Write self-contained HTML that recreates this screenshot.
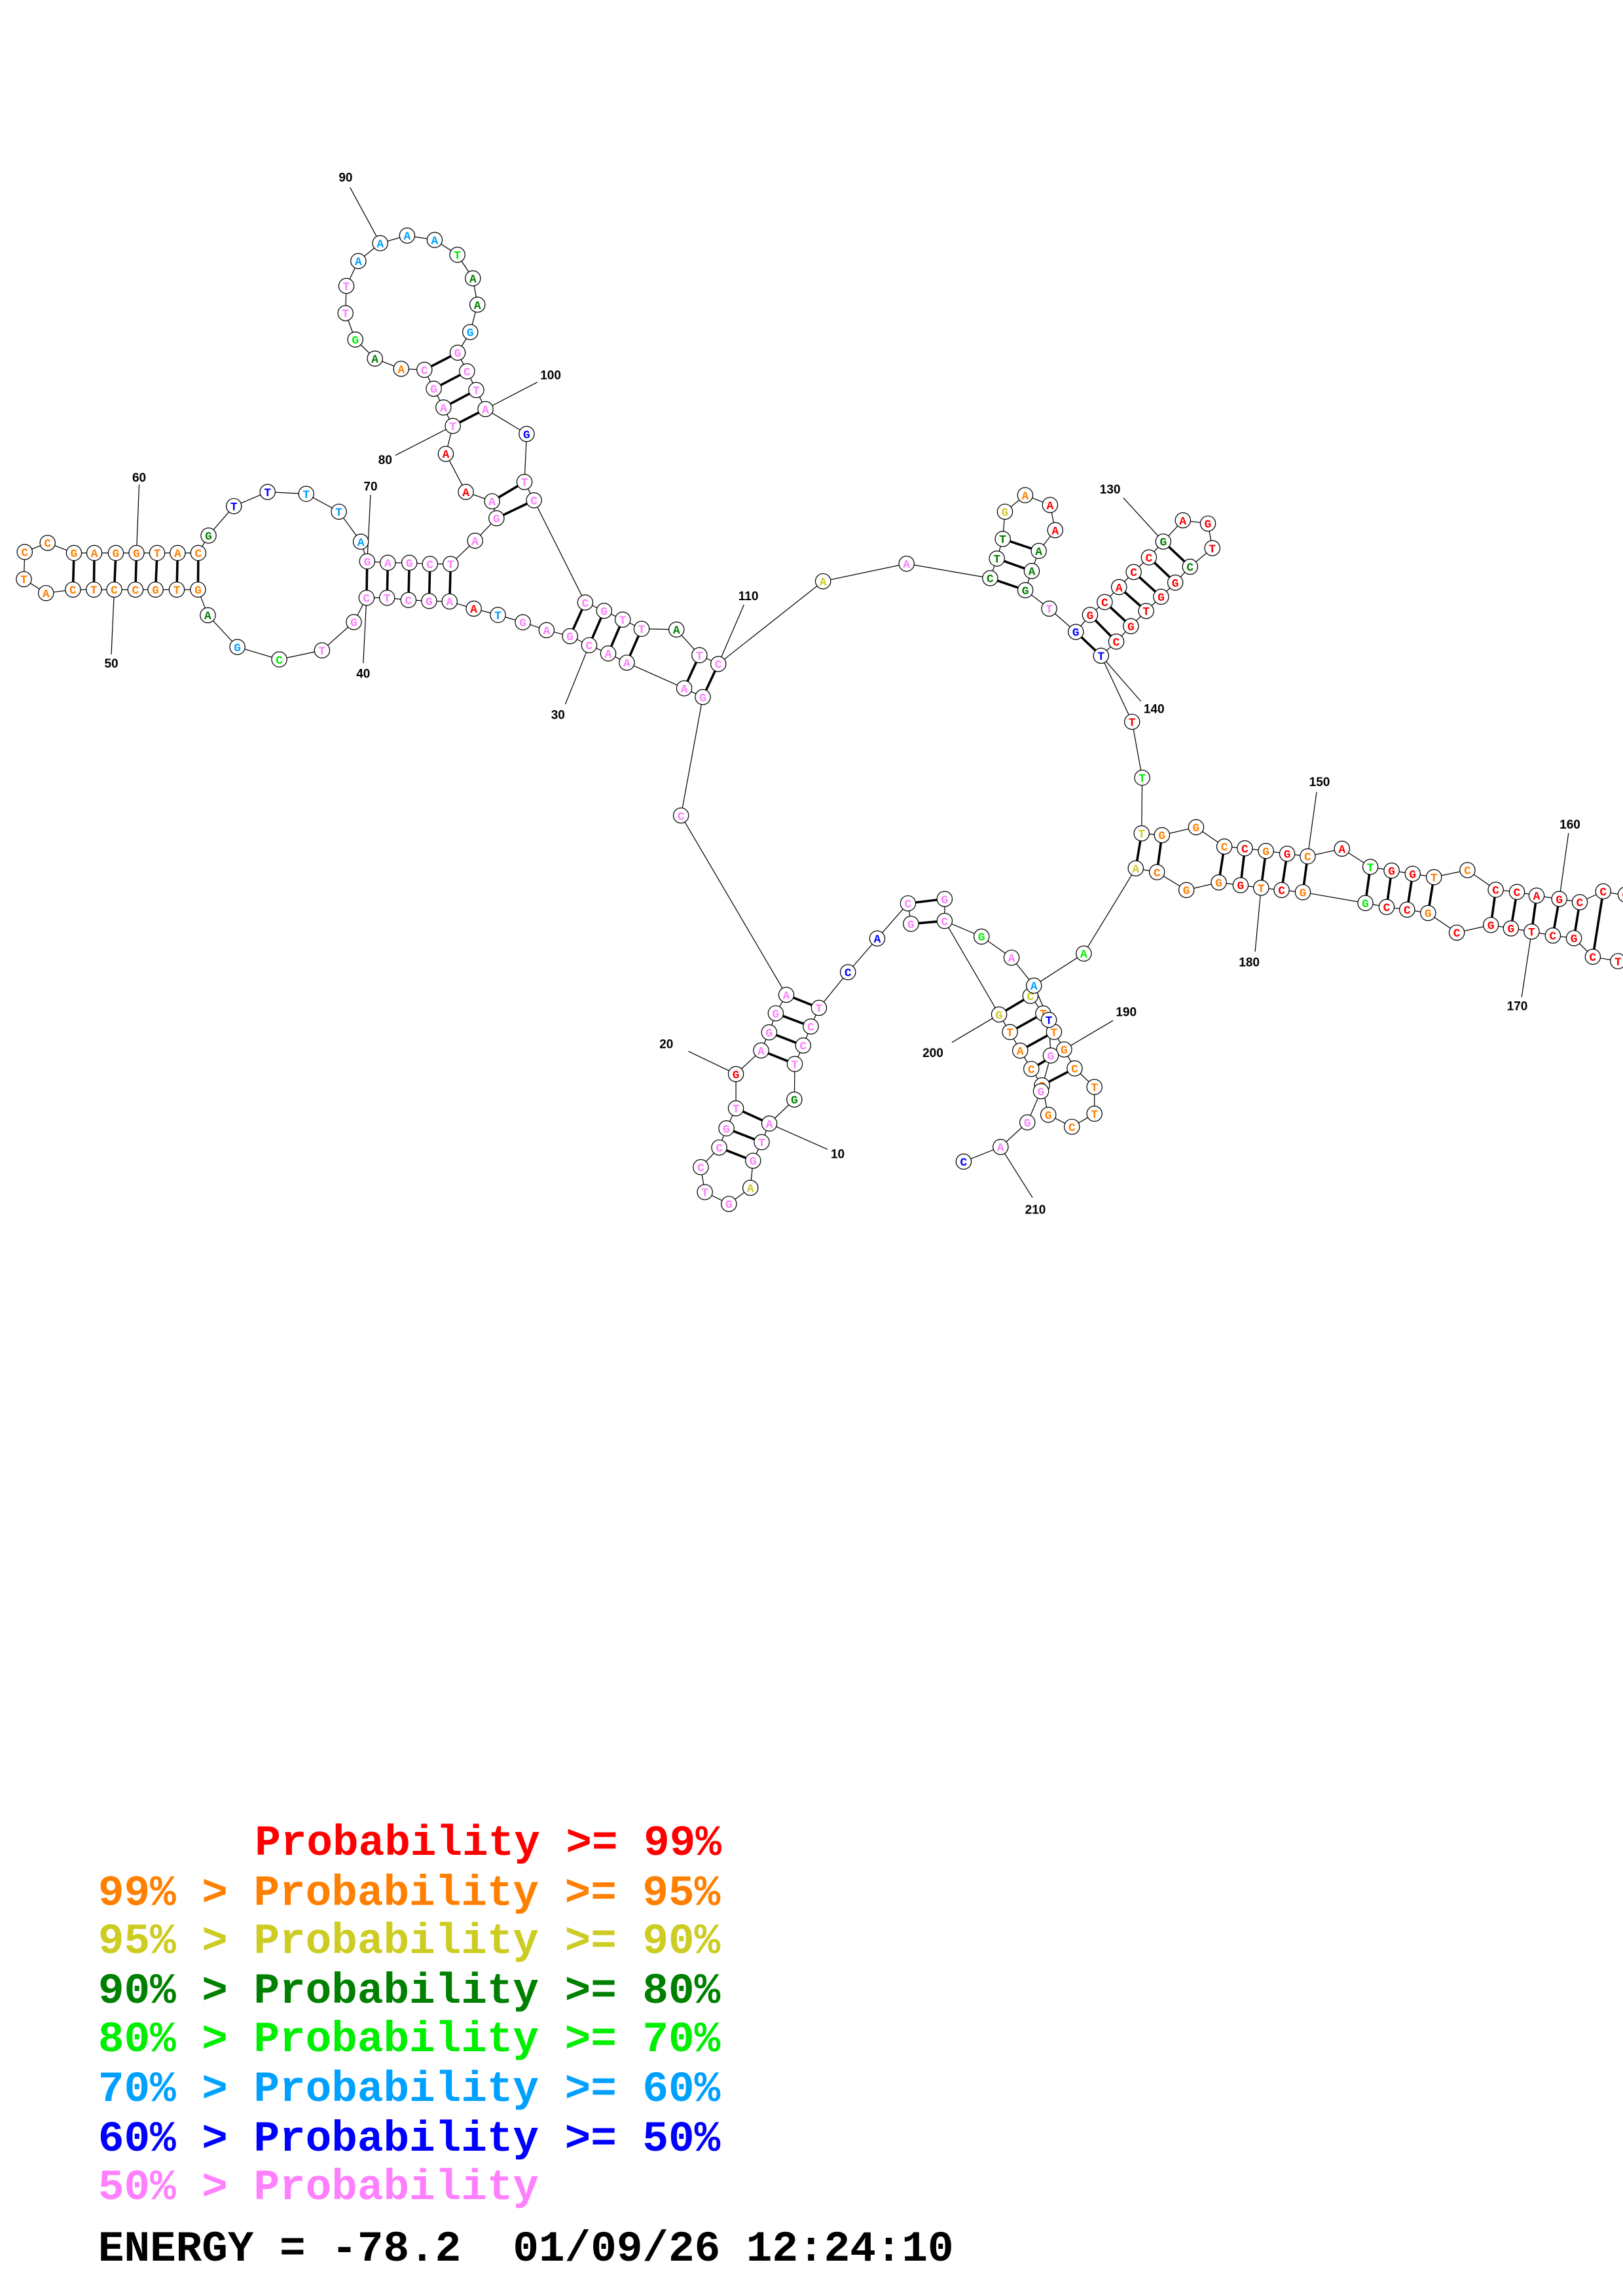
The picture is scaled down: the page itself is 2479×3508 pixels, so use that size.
<!DOCTYPE html>
<html><head><meta charset="utf-8"><style>
html,body{margin:0;padding:0;background:#fff}
svg{display:block}
circle{fill:#fff;stroke:#000;stroke-width:0.55}
.n text{font-family:"Liberation Mono",monospace;font-weight:bold;font-size:8px;text-anchor:middle}
.r{fill:#ff0000}.o{fill:#ff8000}.y{fill:#cccc22}.d{fill:#008000}.g{fill:#00ee00}.l{fill:#00a0ff}.b{fill:#0000ff}.p{fill:#ff80ff}
.bb{fill:none;stroke:#000;stroke-width:0.55}
.pr line{stroke:#000;stroke-width:1.6}
.lb line{stroke:#000;stroke-width:0.55}
.num{font-family:"Liberation Sans",sans-serif;font-weight:bold;font-size:8.5px;text-anchor:middle;fill:#000}
.leg{font-family:"Liberation Mono",monospace;font-weight:bold;font-size:29.5px}
</style></head><body>
<svg width="2479" height="3508" viewBox="0 0 1108.2 1568.2" xmlns="http://www.w3.org/2000/svg">
<rect width="1108.2" height="1568.2" fill="#fff"/>
<polyline class="bb" points="620,617 599,641 579,664 559.2,688.4 553.6,701.1 548.4,714.1 542.7,726.7 542.4,751 525.3,767.4 520.1,780.1 514.2,792.8 512.4,811.3 497.7,822.3 481.3,814.2 478.5,797.2 491.1,783.8 496,770.7 502.5,757 502.5,733.6 519.7,717.5 525.2,705.1 529.7,692.1 536.9,679.5 465,557 479.9,476.1 467.2,470.1 428,452.6 415.3,446.3 402.3,440.7 389.2,434.5 373.2,430.4 357,425 340,420 323.5,415.7 307,410.8 293,410.5 278.9,409.8 264.3,408.3 250.3,408.3 241.6,424.9 219.9,444.2 190.7,450.4 162.1,441.9 141.9,420.2 135.2,402.7 120.7,402.7 106.2,402.7 92.5,402.7 78,402.7 64.1,402.7 49.8,402.7 31.4,405.1 16.3,395.6 16.9,377 32.5,370.8 50.5,377.7 64.4,377.7 79.1,377.7 93.2,377.7 107.3,377.7 121.3,377.7 135.4,377.7 142.4,365.8 159.7,345.7 182.7,336 209.1,337.3 231.4,349.5 246.4,370 250.7,383.4 264.8,384.4 279.5,384.4 293.6,385.2 307.7,385.2 324.4,369.3 339,354 336,342.4 318.1,336 304.4,310 309.2,290.9 302.8,278.3 296.2,265.5 289.8,252.6 273.9,251.9 256,244.9 242.6,231.9 235.9,213.9 236.5,195.3 244.7,178.3 259.6,166.1 278,160.9 296.8,163.9 312.3,174 322.9,190.1 326,208.1 321.1,226.8 312.5,240.9 318.9,253.6 325.2,266.4 331.5,279.4 359.6,296.4 358.1,329.2 364.6,341.7 399.6,411.5 412.5,417.2 425.2,423.2 438.1,429.5 461.9,430 477.6,447.5 490.5,453.5 562,397 619,385 676.1,394.9 680.7,381.5 684.7,368.1 686.2,349.5 700,338.2 717,344.9 720.5,362.1 709.3,376.3 704.5,390 700.1,403.1 716.4,415.7 734.6,431.6 744.3,420 754.3,411.2 764.1,401 774.1,390.7 784.5,380.7 794.3,369.9 807.7,355.4 824.8,357.6 827.8,374.4 812.6,387.1 802.5,397.9 792.8,407.6 782.6,417.3 772.2,427.7 762.2,438.2 751.8,447.9 773,493 779.9,531.2 779.5,569.2 793.4,570.4 816.7,565 836,578.2 850,579.4 864.4,581.2 878.9,583.1 892.9,584.9 916.3,579.7 935.7,592.1 950.2,594.6 964.6,596.8 979.1,599.1 1002,594.3 1021.3,607.7 1035.8,609.2 1049.2,611.7 1064.7,614 1078.7,616.2 1094.7,608.8 1112,612"/>
<polyline class="bb" points="1118,660 1104.8,656.5 1087.6,653.5 1074.7,640.8 1060.3,639 1045.8,636.3 1031.7,634.1 1018,631.8 994.7,637 975.1,623.6 960.8,621.3 946.8,619.5 932.3,616.8 889.6,609.4 875.1,607.9 861.1,606.4 847.1,604.6 832.2,602.7 810.1,607.9 790,595.7 775.5,593.1 740,651.3 706,673.2"/>
<polyline class="bb" points="706,673.2 703.6,680.2 712.3,692.2 719.7,704.8 726.6,716.8 733.8,729.7 747.3,742.4 747.3,760.7 731.9,769.6 715.8,761.4 711.5,741.3 704.2,730.1 696.6,717.6 689.6,704.9 682.2,692.9 645,629 670.2,639.7 690.7,654.1 706,673.2"/>
<polyline class="bb" points="706,673.2 716.2,696.6 717.5,720.9 710.8,745.3 701.5,766.6 683.2,783.4 658,793.4"/>
<polyline class="bb" points="620,617 622,631"/>
<polyline class="bb" points="645,614 645,629"/>
<g class="pr">
<line x1="620" y1="617" x2="645" y2="614"/><line x1="622" y1="631" x2="645" y2="629"/>
<line x1="536.9" y1="679.5" x2="559.2" y2="688.4"/><line x1="529.7" y1="692.1" x2="553.6" y2="701.1"/><line x1="525.2" y1="705.1" x2="548.4" y2="714.1"/><line x1="519.7" y1="717.5" x2="542.7" y2="726.7"/>
<line x1="502.5" y1="757" x2="525.3" y2="767.4"/><line x1="496" y1="770.7" x2="520.1" y2="780.1"/><line x1="491.1" y1="783.8" x2="514.2" y2="792.8"/>
<line x1="399.6" y1="411.5" x2="389.2" y2="434.5"/><line x1="412.5" y1="417.2" x2="402.3" y2="440.7"/><line x1="425.2" y1="423.2" x2="415.3" y2="446.3"/><line x1="438.1" y1="429.5" x2="428" y2="452.6"/>
<line x1="477.6" y1="447.5" x2="467.2" y2="470.1"/><line x1="490.5" y1="453.5" x2="479.9" y2="476.1"/>
<line x1="50.5" y1="377.7" x2="49.8" y2="402.7"/><line x1="64.4" y1="377.7" x2="64.1" y2="402.7"/><line x1="79.1" y1="377.7" x2="78" y2="402.7"/><line x1="93.2" y1="377.7" x2="92.5" y2="402.7"/><line x1="107.3" y1="377.7" x2="106.2" y2="402.7"/><line x1="121.3" y1="377.7" x2="120.7" y2="402.7"/><line x1="135.4" y1="377.7" x2="135.2" y2="402.7"/>
<line x1="250.7" y1="383.4" x2="250.3" y2="408.3"/><line x1="264.8" y1="384.4" x2="264.3" y2="408.3"/><line x1="279.5" y1="384.4" x2="278.9" y2="409.8"/><line x1="293.6" y1="385.2" x2="293" y2="410.5"/><line x1="307.7" y1="385.2" x2="307" y2="410.8"/>
<line x1="358.1" y1="329.2" x2="336" y2="342.4"/><line x1="364.6" y1="341.7" x2="339" y2="354"/>
<line x1="312.5" y1="240.9" x2="289.8" y2="252.6"/><line x1="318.9" y1="253.6" x2="296.2" y2="265.5"/><line x1="325.2" y1="266.4" x2="302.8" y2="278.3"/><line x1="331.5" y1="279.4" x2="309.2" y2="290.9"/>
<line x1="676.1" y1="394.9" x2="700.1" y2="403.1"/><line x1="680.7" y1="381.5" x2="704.5" y2="390"/><line x1="684.7" y1="368.1" x2="709.3" y2="376.3"/>
<line x1="734.6" y1="431.6" x2="751.8" y2="447.9"/><line x1="744.3" y1="420" x2="762.2" y2="438.2"/><line x1="754.3" y1="411.2" x2="772.2" y2="427.7"/><line x1="764.1" y1="401" x2="782.6" y2="417.3"/><line x1="774.1" y1="390.7" x2="792.8" y2="407.6"/><line x1="784.5" y1="380.7" x2="802.5" y2="397.9"/><line x1="794.3" y1="369.9" x2="812.6" y2="387.1"/>
<line x1="779.5" y1="569.2" x2="775.5" y2="593.1"/><line x1="793.4" y1="570.4" x2="790" y2="595.7"/>
<line x1="836" y1="578.2" x2="832.2" y2="602.7"/><line x1="850" y1="579.4" x2="847.1" y2="604.6"/><line x1="864.4" y1="581.2" x2="861.1" y2="606.4"/><line x1="878.9" y1="583.1" x2="875.1" y2="607.9"/><line x1="892.9" y1="584.9" x2="889.6" y2="609.4"/>
<line x1="935.7" y1="592.1" x2="932.3" y2="616.8"/><line x1="950.2" y1="594.6" x2="946.8" y2="619.5"/><line x1="964.6" y1="596.8" x2="960.8" y2="621.3"/><line x1="979.1" y1="599.1" x2="975.1" y2="623.6"/>
<line x1="1021.3" y1="607.7" x2="1018" y2="631.8"/><line x1="1035.8" y1="609.2" x2="1031.7" y2="634.1"/><line x1="1049.2" y1="611.7" x2="1045.8" y2="636.3"/><line x1="1064.7" y1="614" x2="1060.3" y2="639"/><line x1="1078.7" y1="616.2" x2="1074.7" y2="640.8"/><line x1="1094.7" y1="608.8" x2="1087.6" y2="653.5"/>
<line x1="682.2" y1="692.9" x2="703.6" y2="680.2"/><line x1="689.6" y1="704.9" x2="712.3" y2="692.2"/><line x1="696.6" y1="717.6" x2="719.7" y2="704.8"/><line x1="704.2" y1="730.1" x2="726.6" y2="716.8"/><line x1="711.5" y1="741.3" x2="733.8" y2="729.7"/>
</g>
<g class="lb">
<line x1="259.6" y1="166.1" x2="239" y2="128"/><line x1="331.5" y1="279.4" x2="367" y2="261"/><line x1="309.2" y1="290.9" x2="270" y2="311"/><line x1="250.7" y1="383.4" x2="253" y2="338"/><line x1="93.2" y1="377.7" x2="95" y2="331"/><line x1="78" y1="402.7" x2="76" y2="447"/><line x1="250.3" y1="408.3" x2="248" y2="453"/><line x1="402.3" y1="440.7" x2="386" y2="481"/><line x1="490.5" y1="453.5" x2="508" y2="413"/><line x1="794.3" y1="369.9" x2="767" y2="340"/><line x1="751.8" y1="447.9" x2="779" y2="479"/><line x1="892.9" y1="584.9" x2="899" y2="541"/><line x1="1064.7" y1="614" x2="1071" y2="569"/><line x1="1045.8" y1="636.3" x2="1039" y2="681"/><line x1="861.1" y1="606.4" x2="857" y2="650"/><line x1="726.6" y1="716.8" x2="760" y2="697"/><line x1="682.2" y1="692.9" x2="650" y2="712"/><line x1="683.2" y1="783.4" x2="705" y2="818"/><line x1="525.3" y1="767.4" x2="565" y2="785"/><line x1="502.5" y1="733.6" x2="470" y2="718"/>
</g>
<g class="num">
<text x="236" y="124">90</text><text x="376" y="259">100</text><text x="263" y="317">80</text><text x="253" y="335">70</text><text x="95" y="329">60</text><text x="76" y="456">50</text><text x="248" y="463">40</text><text x="381" y="491">30</text><text x="511" y="410">110</text><text x="758" y="337">130</text><text x="788" y="487">140</text><text x="901" y="537">150</text><text x="1072" y="566">160</text><text x="1036" y="690">170</text><text x="853" y="660">180</text><text x="769" y="694">190</text><text x="637" y="722">200</text><text x="707" y="829">210</text><text x="572" y="791">10</text><text x="455" y="716">20</text>
</g>
<g class="n">
<circle cx="1110" cy="611" r="5.2"/><text x="1110" y="613.8" class="r">C</text>
<circle cx="620" cy="617" r="5.2"/><text x="620" y="619.8" class="p">C</text>
<circle cx="622" cy="631" r="5.2"/><text x="622" y="633.8" class="p">G</text>
<circle cx="645" cy="614" r="5.2"/><text x="645" y="616.8" class="p">G</text>
<circle cx="645" cy="629" r="5.2"/><text x="645" y="631.8" class="p">C</text>
<circle cx="599" cy="641" r="5.2"/><text x="599" y="643.8" class="b">A</text>
<circle cx="579" cy="664" r="5.2"/><text x="579" y="666.8" class="b">C</text>
<circle cx="559.2" cy="688.4" r="5.2"/><text x="559.2" y="691.2" class="p">T</text>
<circle cx="553.6" cy="701.1" r="5.2"/><text x="553.6" y="703.9" class="p">C</text>
<circle cx="548.4" cy="714.1" r="5.2"/><text x="548.4" y="716.9" class="p">C</text>
<circle cx="542.7" cy="726.7" r="5.2"/><text x="542.7" y="729.5" class="p">T</text>
<circle cx="542.4" cy="751" r="5.2"/><text x="542.4" y="753.8" class="d">G</text>
<circle cx="525.3" cy="767.4" r="5.2"/><text x="525.3" y="770.2" class="p">A</text>
<circle cx="520.1" cy="780.1" r="5.2"/><text x="520.1" y="782.9" class="p">T</text>
<circle cx="514.2" cy="792.8" r="5.2"/><text x="514.2" y="795.6" class="p">G</text>
<circle cx="512.4" cy="811.3" r="5.2"/><text x="512.4" y="814.1" class="y">A</text>
<circle cx="497.7" cy="822.3" r="5.2"/><text x="497.7" y="825.1" class="p">G</text>
<circle cx="481.3" cy="814.2" r="5.2"/><text x="481.3" y="817" class="p">T</text>
<circle cx="478.5" cy="797.2" r="5.2"/><text x="478.5" y="800" class="p">C</text>
<circle cx="491.1" cy="783.8" r="5.2"/><text x="491.1" y="786.6" class="p">C</text>
<circle cx="496" cy="770.7" r="5.2"/><text x="496" y="773.5" class="p">G</text>
<circle cx="502.5" cy="757" r="5.2"/><text x="502.5" y="759.8" class="p">T</text>
<circle cx="502.5" cy="733.6" r="5.2"/><text x="502.5" y="736.4" class="r">G</text>
<circle cx="519.7" cy="717.5" r="5.2"/><text x="519.7" y="720.3" class="p">A</text>
<circle cx="525.2" cy="705.1" r="5.2"/><text x="525.2" y="707.9" class="p">G</text>
<circle cx="529.7" cy="692.1" r="5.2"/><text x="529.7" y="694.9" class="p">G</text>
<circle cx="536.9" cy="679.5" r="5.2"/><text x="536.9" y="682.3" class="p">A</text>
<circle cx="465" cy="557" r="5.2"/><text x="465" y="559.8" class="p">C</text>
<circle cx="479.9" cy="476.1" r="5.2"/><text x="479.9" y="478.9" class="p">G</text>
<circle cx="467.2" cy="470.1" r="5.2"/><text x="467.2" y="472.9" class="p">A</text>
<circle cx="428" cy="452.6" r="5.2"/><text x="428" y="455.4" class="p">A</text>
<circle cx="415.3" cy="446.3" r="5.2"/><text x="415.3" y="449.1" class="p">A</text>
<circle cx="402.3" cy="440.7" r="5.2"/><text x="402.3" y="443.5" class="p">C</text>
<circle cx="389.2" cy="434.5" r="5.2"/><text x="389.2" y="437.3" class="p">G</text>
<circle cx="373.2" cy="430.4" r="5.2"/><text x="373.2" y="433.2" class="p">A</text>
<circle cx="357" cy="425" r="5.2"/><text x="357" y="427.8" class="p">G</text>
<circle cx="340" cy="420" r="5.2"/><text x="340" y="422.8" class="l">T</text>
<circle cx="323.5" cy="415.7" r="5.2"/><text x="323.5" y="418.5" class="r">A</text>
<circle cx="307" cy="410.8" r="5.2"/><text x="307" y="413.6" class="p">A</text>
<circle cx="293" cy="410.5" r="5.2"/><text x="293" y="413.3" class="p">G</text>
<circle cx="278.9" cy="409.8" r="5.2"/><text x="278.9" y="412.6" class="p">C</text>
<circle cx="264.3" cy="408.3" r="5.2"/><text x="264.3" y="411.1" class="p">T</text>
<circle cx="250.3" cy="408.3" r="5.2"/><text x="250.3" y="411.1" class="p">C</text>
<circle cx="241.6" cy="424.9" r="5.2"/><text x="241.6" y="427.7" class="p">G</text>
<circle cx="219.9" cy="444.2" r="5.2"/><text x="219.9" y="447" class="p">T</text>
<circle cx="190.7" cy="450.4" r="5.2"/><text x="190.7" y="453.2" class="g">C</text>
<circle cx="162.1" cy="441.9" r="5.2"/><text x="162.1" y="444.7" class="l">G</text>
<circle cx="141.9" cy="420.2" r="5.2"/><text x="141.9" y="423" class="d">A</text>
<circle cx="135.2" cy="402.7" r="5.2"/><text x="135.2" y="405.5" class="o">G</text>
<circle cx="120.7" cy="402.7" r="5.2"/><text x="120.7" y="405.5" class="o">T</text>
<circle cx="106.2" cy="402.7" r="5.2"/><text x="106.2" y="405.5" class="o">G</text>
<circle cx="92.5" cy="402.7" r="5.2"/><text x="92.5" y="405.5" class="o">C</text>
<circle cx="78" cy="402.7" r="5.2"/><text x="78" y="405.5" class="o">C</text>
<circle cx="64.1" cy="402.7" r="5.2"/><text x="64.1" y="405.5" class="o">T</text>
<circle cx="49.8" cy="402.7" r="5.2"/><text x="49.8" y="405.5" class="o">C</text>
<circle cx="31.4" cy="405.1" r="5.2"/><text x="31.4" y="407.9" class="o">A</text>
<circle cx="16.3" cy="395.6" r="5.2"/><text x="16.3" y="398.4" class="o">T</text>
<circle cx="16.9" cy="377" r="5.2"/><text x="16.9" y="379.8" class="o">C</text>
<circle cx="32.5" cy="370.8" r="5.2"/><text x="32.5" y="373.6" class="o">C</text>
<circle cx="50.5" cy="377.7" r="5.2"/><text x="50.5" y="380.5" class="o">G</text>
<circle cx="64.4" cy="377.7" r="5.2"/><text x="64.4" y="380.5" class="o">A</text>
<circle cx="79.1" cy="377.7" r="5.2"/><text x="79.1" y="380.5" class="o">G</text>
<circle cx="93.2" cy="377.7" r="5.2"/><text x="93.2" y="380.5" class="o">G</text>
<circle cx="107.3" cy="377.7" r="5.2"/><text x="107.3" y="380.5" class="o">T</text>
<circle cx="121.3" cy="377.7" r="5.2"/><text x="121.3" y="380.5" class="o">A</text>
<circle cx="135.4" cy="377.7" r="5.2"/><text x="135.4" y="380.5" class="o">C</text>
<circle cx="142.4" cy="365.8" r="5.2"/><text x="142.4" y="368.6" class="d">G</text>
<circle cx="159.7" cy="345.7" r="5.2"/><text x="159.7" y="348.5" class="b">T</text>
<circle cx="182.7" cy="336" r="5.2"/><text x="182.7" y="338.8" class="b">T</text>
<circle cx="209.1" cy="337.3" r="5.2"/><text x="209.1" y="340.1" class="l">T</text>
<circle cx="231.4" cy="349.5" r="5.2"/><text x="231.4" y="352.3" class="l">T</text>
<circle cx="246.4" cy="370" r="5.2"/><text x="246.4" y="372.8" class="l">A</text>
<circle cx="250.7" cy="383.4" r="5.2"/><text x="250.7" y="386.2" class="p">G</text>
<circle cx="264.8" cy="384.4" r="5.2"/><text x="264.8" y="387.2" class="p">A</text>
<circle cx="279.5" cy="384.4" r="5.2"/><text x="279.5" y="387.2" class="p">G</text>
<circle cx="293.6" cy="385.2" r="5.2"/><text x="293.6" y="388" class="p">C</text>
<circle cx="307.7" cy="385.2" r="5.2"/><text x="307.7" y="388" class="p">T</text>
<circle cx="324.4" cy="369.3" r="5.2"/><text x="324.4" y="372.1" class="p">A</text>
<circle cx="339" cy="354" r="5.2"/><text x="339" y="356.8" class="p">G</text>
<circle cx="336" cy="342.4" r="5.2"/><text x="336" y="345.2" class="p">A</text>
<circle cx="318.1" cy="336" r="5.2"/><text x="318.1" y="338.8" class="r">A</text>
<circle cx="304.4" cy="310" r="5.2"/><text x="304.4" y="312.8" class="r">A</text>
<circle cx="309.2" cy="290.9" r="5.2"/><text x="309.2" y="293.7" class="p">T</text>
<circle cx="302.8" cy="278.3" r="5.2"/><text x="302.8" y="281.1" class="p">A</text>
<circle cx="296.2" cy="265.5" r="5.2"/><text x="296.2" y="268.3" class="p">G</text>
<circle cx="289.8" cy="252.6" r="5.2"/><text x="289.8" y="255.4" class="p">C</text>
<circle cx="273.9" cy="251.9" r="5.2"/><text x="273.9" y="254.7" class="o">A</text>
<circle cx="256" cy="244.9" r="5.2"/><text x="256" y="247.7" class="d">A</text>
<circle cx="242.6" cy="231.9" r="5.2"/><text x="242.6" y="234.7" class="g">G</text>
<circle cx="235.9" cy="213.9" r="5.2"/><text x="235.9" y="216.7" class="p">T</text>
<circle cx="236.5" cy="195.3" r="5.2"/><text x="236.5" y="198.1" class="p">T</text>
<circle cx="244.7" cy="178.3" r="5.2"/><text x="244.7" y="181.1" class="l">A</text>
<circle cx="259.6" cy="166.1" r="5.2"/><text x="259.6" y="168.9" class="l">A</text>
<circle cx="278" cy="160.9" r="5.2"/><text x="278" y="163.7" class="l">A</text>
<circle cx="296.8" cy="163.9" r="5.2"/><text x="296.8" y="166.7" class="l">A</text>
<circle cx="312.3" cy="174" r="5.2"/><text x="312.3" y="176.8" class="g">T</text>
<circle cx="322.9" cy="190.1" r="5.2"/><text x="322.9" y="192.9" class="d">A</text>
<circle cx="326" cy="208.1" r="5.2"/><text x="326" y="210.9" class="d">A</text>
<circle cx="321.1" cy="226.8" r="5.2"/><text x="321.1" y="229.6" class="l">G</text>
<circle cx="312.5" cy="240.9" r="5.2"/><text x="312.5" y="243.7" class="p">G</text>
<circle cx="318.9" cy="253.6" r="5.2"/><text x="318.9" y="256.4" class="p">C</text>
<circle cx="325.2" cy="266.4" r="5.2"/><text x="325.2" y="269.2" class="p">T</text>
<circle cx="331.5" cy="279.4" r="5.2"/><text x="331.5" y="282.2" class="p">A</text>
<circle cx="359.6" cy="296.4" r="5.2"/><text x="359.6" y="299.2" class="b">G</text>
<circle cx="358.1" cy="329.2" r="5.2"/><text x="358.1" y="332" class="p">T</text>
<circle cx="364.6" cy="341.7" r="5.2"/><text x="364.6" y="344.5" class="p">C</text>
<circle cx="399.6" cy="411.5" r="5.2"/><text x="399.6" y="414.3" class="p">C</text>
<circle cx="412.5" cy="417.2" r="5.2"/><text x="412.5" y="420" class="p">G</text>
<circle cx="425.2" cy="423.2" r="5.2"/><text x="425.2" y="426" class="p">T</text>
<circle cx="438.1" cy="429.5" r="5.2"/><text x="438.1" y="432.3" class="p">T</text>
<circle cx="461.9" cy="430" r="5.2"/><text x="461.9" y="432.8" class="d">A</text>
<circle cx="477.6" cy="447.5" r="5.2"/><text x="477.6" y="450.3" class="p">T</text>
<circle cx="490.5" cy="453.5" r="5.2"/><text x="490.5" y="456.3" class="p">C</text>
<circle cx="562" cy="397" r="5.2"/><text x="562" y="399.8" class="y">A</text>
<circle cx="619" cy="385" r="5.2"/><text x="619" y="387.8" class="p">A</text>
<circle cx="676.1" cy="394.9" r="5.2"/><text x="676.1" y="397.7" class="d">C</text>
<circle cx="680.7" cy="381.5" r="5.2"/><text x="680.7" y="384.3" class="d">T</text>
<circle cx="684.7" cy="368.1" r="5.2"/><text x="684.7" y="370.9" class="d">T</text>
<circle cx="686.2" cy="349.5" r="5.2"/><text x="686.2" y="352.3" class="y">G</text>
<circle cx="700" cy="338.2" r="5.2"/><text x="700" y="341" class="o">A</text>
<circle cx="717" cy="344.9" r="5.2"/><text x="717" y="347.7" class="r">A</text>
<circle cx="720.5" cy="362.1" r="5.2"/><text x="720.5" y="364.9" class="r">A</text>
<circle cx="709.3" cy="376.3" r="5.2"/><text x="709.3" y="379.1" class="d">A</text>
<circle cx="704.5" cy="390" r="5.2"/><text x="704.5" y="392.8" class="d">A</text>
<circle cx="700.1" cy="403.1" r="5.2"/><text x="700.1" y="405.9" class="d">G</text>
<circle cx="716.4" cy="415.7" r="5.2"/><text x="716.4" y="418.5" class="p">T</text>
<circle cx="734.6" cy="431.6" r="5.2"/><text x="734.6" y="434.4" class="b">G</text>
<circle cx="744.3" cy="420" r="5.2"/><text x="744.3" y="422.8" class="r">G</text>
<circle cx="754.3" cy="411.2" r="5.2"/><text x="754.3" y="414" class="r">C</text>
<circle cx="764.1" cy="401" r="5.2"/><text x="764.1" y="403.8" class="r">A</text>
<circle cx="774.1" cy="390.7" r="5.2"/><text x="774.1" y="393.5" class="r">C</text>
<circle cx="784.5" cy="380.7" r="5.2"/><text x="784.5" y="383.5" class="r">C</text>
<circle cx="794.3" cy="369.9" r="5.2"/><text x="794.3" y="372.7" class="d">G</text>
<circle cx="807.7" cy="355.4" r="5.2"/><text x="807.7" y="358.2" class="r">A</text>
<circle cx="824.8" cy="357.6" r="5.2"/><text x="824.8" y="360.4" class="r">G</text>
<circle cx="827.8" cy="374.4" r="5.2"/><text x="827.8" y="377.2" class="r">T</text>
<circle cx="812.6" cy="387.1" r="5.2"/><text x="812.6" y="389.9" class="d">C</text>
<circle cx="802.5" cy="397.9" r="5.2"/><text x="802.5" y="400.7" class="r">G</text>
<circle cx="792.8" cy="407.6" r="5.2"/><text x="792.8" y="410.4" class="r">G</text>
<circle cx="782.6" cy="417.3" r="5.2"/><text x="782.6" y="420.1" class="r">T</text>
<circle cx="772.2" cy="427.7" r="5.2"/><text x="772.2" y="430.5" class="r">G</text>
<circle cx="762.2" cy="438.2" r="5.2"/><text x="762.2" y="441" class="r">C</text>
<circle cx="751.8" cy="447.9" r="5.2"/><text x="751.8" y="450.7" class="b">T</text>
<circle cx="773" cy="493" r="5.2"/><text x="773" y="495.8" class="r">T</text>
<circle cx="779.9" cy="531.2" r="5.2"/><text x="779.9" y="534" class="g">T</text>
<circle cx="779.5" cy="569.2" r="5.2"/><text x="779.5" y="572" class="y">T</text>
<circle cx="793.4" cy="570.4" r="5.2"/><text x="793.4" y="573.2" class="o">G</text>
<circle cx="816.7" cy="565" r="5.2"/><text x="816.7" y="567.8" class="o">G</text>
<circle cx="836" cy="578.2" r="5.2"/><text x="836" y="581" class="o">C</text>
<circle cx="850" cy="579.4" r="5.2"/><text x="850" y="582.2" class="r">C</text>
<circle cx="864.4" cy="581.2" r="5.2"/><text x="864.4" y="584" class="o">G</text>
<circle cx="878.9" cy="583.1" r="5.2"/><text x="878.9" y="585.9" class="r">G</text>
<circle cx="892.9" cy="584.9" r="5.2"/><text x="892.9" y="587.7" class="o">C</text>
<circle cx="916.3" cy="579.7" r="5.2"/><text x="916.3" y="582.5" class="r">A</text>
<circle cx="935.7" cy="592.1" r="5.2"/><text x="935.7" y="594.9" class="g">T</text>
<circle cx="950.2" cy="594.6" r="5.2"/><text x="950.2" y="597.4" class="r">G</text>
<circle cx="964.6" cy="596.8" r="5.2"/><text x="964.6" y="599.6" class="r">G</text>
<circle cx="979.1" cy="599.1" r="5.2"/><text x="979.1" y="601.9" class="o">T</text>
<circle cx="1002" cy="594.3" r="5.2"/><text x="1002" y="597.1" class="o">C</text>
<circle cx="1021.3" cy="607.7" r="5.2"/><text x="1021.3" y="610.5" class="r">C</text>
<circle cx="1035.8" cy="609.2" r="5.2"/><text x="1035.8" y="612" class="r">C</text>
<circle cx="1049.2" cy="611.7" r="5.2"/><text x="1049.2" y="614.5" class="r">A</text>
<circle cx="1064.7" cy="614" r="5.2"/><text x="1064.7" y="616.8" class="r">G</text>
<circle cx="1078.7" cy="616.2" r="5.2"/><text x="1078.7" y="619" class="r">C</text>
<circle cx="1094.7" cy="608.8" r="5.2"/><text x="1094.7" y="611.6" class="r">C</text>
<circle cx="1104.8" cy="656.5" r="5.2"/><text x="1104.8" y="659.3" class="r">T</text>
<circle cx="1087.6" cy="653.5" r="5.2"/><text x="1087.6" y="656.3" class="r">C</text>
<circle cx="1074.7" cy="640.8" r="5.2"/><text x="1074.7" y="643.6" class="r">G</text>
<circle cx="1060.3" cy="639" r="5.2"/><text x="1060.3" y="641.8" class="r">C</text>
<circle cx="1045.8" cy="636.3" r="5.2"/><text x="1045.8" y="639.1" class="r">T</text>
<circle cx="1031.7" cy="634.1" r="5.2"/><text x="1031.7" y="636.9" class="r">G</text>
<circle cx="1018" cy="631.8" r="5.2"/><text x="1018" y="634.6" class="r">G</text>
<circle cx="994.7" cy="637" r="5.2"/><text x="994.7" y="639.8" class="r">C</text>
<circle cx="975.1" cy="623.6" r="5.2"/><text x="975.1" y="626.4" class="o">G</text>
<circle cx="960.8" cy="621.3" r="5.2"/><text x="960.8" y="624.1" class="r">C</text>
<circle cx="946.8" cy="619.5" r="5.2"/><text x="946.8" y="622.3" class="r">C</text>
<circle cx="932.3" cy="616.8" r="5.2"/><text x="932.3" y="619.6" class="g">G</text>
<circle cx="889.6" cy="609.4" r="5.2"/><text x="889.6" y="612.2" class="o">G</text>
<circle cx="875.1" cy="607.9" r="5.2"/><text x="875.1" y="610.7" class="r">C</text>
<circle cx="861.1" cy="606.4" r="5.2"/><text x="861.1" y="609.2" class="o">T</text>
<circle cx="847.1" cy="604.6" r="5.2"/><text x="847.1" y="607.4" class="r">G</text>
<circle cx="832.2" cy="602.7" r="5.2"/><text x="832.2" y="605.5" class="o">G</text>
<circle cx="810.1" cy="607.9" r="5.2"/><text x="810.1" y="610.7" class="o">G</text>
<circle cx="790" cy="595.7" r="5.2"/><text x="790" y="598.5" class="o">C</text>
<circle cx="775.5" cy="593.1" r="5.2"/><text x="775.5" y="595.9" class="y">A</text>
<circle cx="740" cy="651.3" r="5.2"/><text x="740" y="654.1" class="g">A</text>
<circle cx="670.2" cy="639.7" r="5.2"/><text x="670.2" y="642.5" class="g">G</text>
<circle cx="690.7" cy="654.1" r="5.2"/><text x="690.7" y="656.9" class="p">A</text>
<circle cx="712.3" cy="692.2" r="5.2"/><text x="712.3" y="695" class="o">T</text>
<circle cx="711.5" cy="741.3" r="5.2"/><text x="711.5" y="744.1" class="o">C</text>
<circle cx="703.6" cy="680.2" r="5.2"/><text x="703.6" y="683" class="y">C</text>
<circle cx="719.7" cy="704.8" r="5.2"/><text x="719.7" y="707.6" class="o">T</text>
<circle cx="726.6" cy="716.8" r="5.2"/><text x="726.6" y="719.6" class="o">G</text>
<circle cx="733.8" cy="729.7" r="5.2"/><text x="733.8" y="732.5" class="o">C</text>
<circle cx="747.3" cy="742.4" r="5.2"/><text x="747.3" y="745.2" class="o">T</text>
<circle cx="747.3" cy="760.7" r="5.2"/><text x="747.3" y="763.5" class="o">T</text>
<circle cx="731.9" cy="769.6" r="5.2"/><text x="731.9" y="772.4" class="o">C</text>
<circle cx="715.8" cy="761.4" r="5.2"/><text x="715.8" y="764.2" class="o">G</text>
<circle cx="704.2" cy="730.1" r="5.2"/><text x="704.2" y="732.9" class="o">C</text>
<circle cx="696.6" cy="717.6" r="5.2"/><text x="696.6" y="720.4" class="o">A</text>
<circle cx="689.6" cy="704.9" r="5.2"/><text x="689.6" y="707.7" class="o">T</text>
<circle cx="682.2" cy="692.9" r="5.2"/><text x="682.2" y="695.7" class="y">G</text>
<circle cx="706" cy="673.2" r="5.2"/><text x="706" y="676" class="l">A</text>
<circle cx="716.2" cy="696.6" r="5.2"/><text x="716.2" y="699.4" class="b">T</text>
<circle cx="717.5" cy="720.9" r="5.2"/><text x="717.5" y="723.7" class="p">G</text>
<circle cx="710.8" cy="745.3" r="5.2"/><text x="710.8" y="748.1" class="p">G</text>
<circle cx="701.5" cy="766.6" r="5.2"/><text x="701.5" y="769.4" class="p">G</text>
<circle cx="683.2" cy="783.4" r="5.2"/><text x="683.2" y="786.2" class="p">A</text>
<circle cx="658" cy="793.4" r="5.2"/><text x="658" y="796.2" class="b">C</text>
</g>
<g class="leg">
<text x="174" y="1267" fill="#ff0000">Probability &gt;= 99%</text>
<text x="67" y="1301" fill="#ff8000">99% &gt; Probability &gt;= 95%</text>
<text x="67" y="1334" fill="#cccc22">95% &gt; Probability &gt;= 90%</text>
<text x="67" y="1368" fill="#008000">90% &gt; Probability &gt;= 80%</text>
<text x="67" y="1401" fill="#00ee00">80% &gt; Probability &gt;= 70%</text>
<text x="67" y="1435" fill="#00a0ff">70% &gt; Probability &gt;= 60%</text>
<text x="67" y="1469" fill="#0000ff">60% &gt; Probability &gt;= 50%</text>
<text x="67" y="1502" fill="#ff80ff">50% &gt; Probability</text>
<text x="67" y="1544" fill="#000">ENERGY = -78.2&#160; 01/09/26 12:24:10</text>
</g>
</svg>
</body></html>
